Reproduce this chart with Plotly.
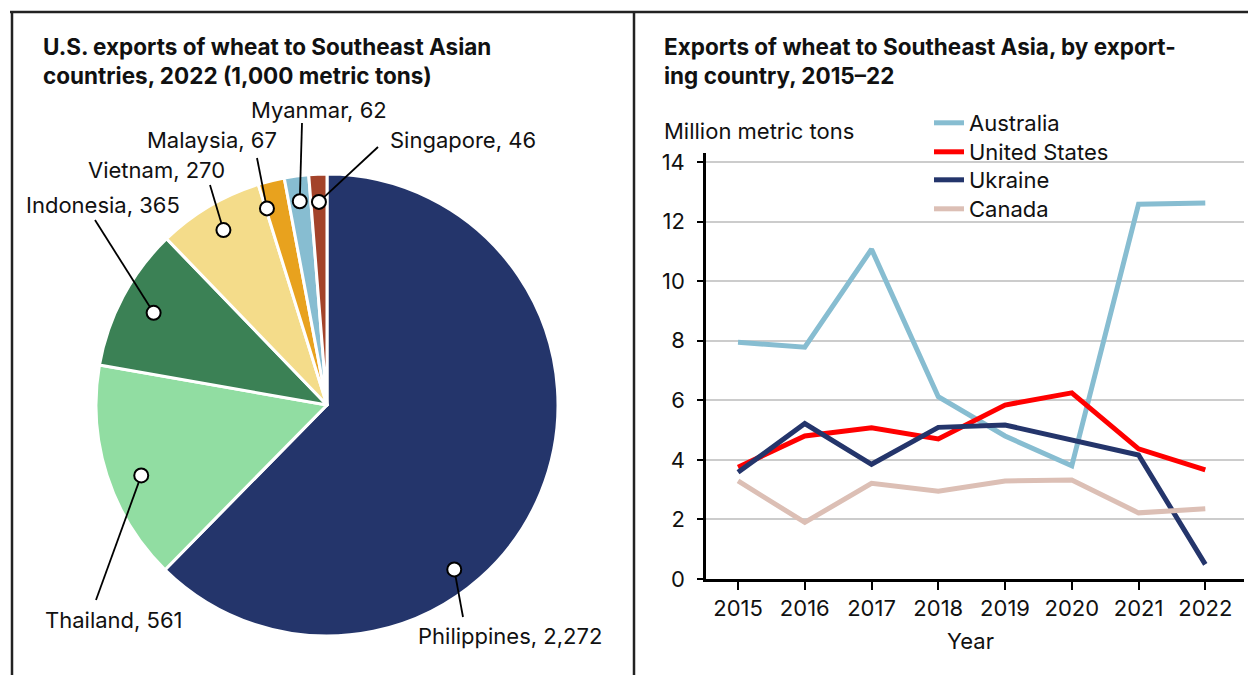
import math
import plotly.graph_objects as go

W, H = 1248, 675

# left panel: U.S. wheat exports by destination, 2022 (1,000 metric tons)
pie_countries = ["Philippines", "Thailand", "Indonesia", "Vietnam", "Malaysia", "Myanmar", "Singapore"]
pie_values = [2272, 561, 365, 270, 67, 62, 46]
pie_colors = ["#24356b", "#91dda2", "#3b8155", "#f4dc8a", "#e8a21e", "#87bdd1", "#a3432a"]

# right panel: exports to Southeast Asia by exporter (million metric tons)
years = [2015, 2016, 2017, 2018, 2019, 2020, 2021, 2022]
australia = [7.95, 7.78, 11.07, 6.12, 4.80, 3.80, 12.58, 12.62]
united_states = [3.75, 4.80, 5.08, 4.70, 5.84, 6.25, 4.37, 3.66]
ukraine = [3.58, 5.22, 3.85, 5.09, 5.17, 4.66, 4.16, 0.49]
canada = [3.29, 1.90, 3.21, 2.95, 3.29, 3.32, 2.22, 2.36]
series_names = ["Australia", "United States", "Ukraine", "Canada"]
series_colors = ["#87bdd1", "#ff0000", "#24356b", "#dcbfb5"]

FONT = "Inter"
INK = "#111111"
SIZE = 22


def fx(x):
    return x / W


def fy(y):
    return 1 - y / H


# pie geometry in pixels
cx, cy, R = 327, 405, 231

# where each callout line ends and where its label sits (pixels)
callouts = {
    "Philippines": dict(end=(463, 617), text=(510, 636), anchor="center", shift=30, r=0.90),
    "Thailand": dict(end=(96, 600), text=(114, 620), anchor="center", shift=-3, r=0.86),
    "Indonesia": dict(end=(95, 220), text=(103, 205), anchor="center", shift=0, r=0.85),
    "Vietnam": dict(end=(210, 185), text=(156, 170), anchor="center", shift=0, r=0.88),
    "Malaysia": dict(end=(257, 158), text=(279, 140), anchor="right", shift=-3, r=0.89),
    "Myanmar": dict(end=(302, 123), text=(319, 110), anchor="center", shift=0, r=0.89),
    "Singapore": dict(end=(378, 147), text=(388, 140), anchor="left", shift=0, r=0.88),
}

fig = go.Figure()

fig.add_trace(go.Pie(
    labels=pie_countries, values=pie_values, sort=False, direction="clockwise", rotation=0,
    marker=dict(colors=pie_colors, line=dict(color="white", width=3)),
    textinfo="none", hoverinfo="label+value", showlegend=False,
    domain=dict(x=[fx(cx - R), fx(cx + R)], y=[fy(cy + R), fy(cy - R)]),
))

# one legend per series so the rows sit at the reference spacing
legend_rows = [123, 152, 180, 209]
legend_ids = ["legend", "legend2", "legend3", "legend4"]
for name, vals, col, lid in zip(series_names, [australia, united_states, ukraine, canada], series_colors, legend_ids):
    fig.add_trace(go.Scatter(x=years, y=vals, mode="lines", name=name, legend=lid,
                             line=dict(color=col, width=5)))

shapes = []
annotations = []

# frame lines
for x0, y0, x1, y1 in [(10, 12, W, 12), (12, 12, 12, H), (634, 12, 634, H)]:
    shapes.append(dict(type="line", xref="paper", yref="paper", x0=fx(x0), y0=fy(y0), x1=fx(x1), y1=fy(y1),
                       line=dict(color="#222222", width=2.5)))

# white box behind the legend rows (hides the gridlines there)
shapes.append(dict(type="rect", xref="paper", yref="paper", layer="between",
                   x0=fx(919), x1=fx(1128), y0=fy(226), y1=fy(105),
                   fillcolor="white", line=dict(width=0)))

# callouts for the pie
total = sum(pie_values)
start = 0.0
for name, val in zip(pie_countries, pie_values):
    span = 360.0 * val / total
    c = callouts[name]
    ang = math.radians(start + span / 2 + c["shift"])
    dx = cx + c["r"] * R * math.sin(ang)
    dy = cy - c["r"] * R * math.cos(ang)
    start += span
    ex, ey = c["end"]
    shapes.append(dict(type="line", xref="paper", yref="paper", layer="above",
                       x0=fx(dx), y0=fy(dy), x1=fx(ex), y1=fy(ey), line=dict(color="black", width=1.8)))
    shapes.append(dict(type="circle", xref="paper", yref="paper", layer="above",
                       x0=fx(dx - 7), x1=fx(dx + 7), y0=fy(dy - 7), y1=fy(dy + 7),
                       fillcolor="white", line=dict(color="black", width=2)))
    tx, ty = c["text"]
    annotations.append(dict(text=f"{name}, {val:,}", xref="paper", yref="paper", x=fx(tx), y=fy(ty),
                            xanchor=c["anchor"], yanchor="middle", showarrow=False,
                            font=dict(family=FONT, size=SIZE, color=INK)))

# titles (one annotation per line) and axis labels
titles = [
    ("U.S. exports of wheat to Southeast Asian", 41, 47),
    ("countries, 2022 (1,000 metric tons)", 41, 76),
    ("Exports of wheat to Southeast Asia, by export-", 662, 47),
    ("ing country, 2015\u201322", 662, 76),
]
for txt, x, y in titles:
    annotations.append(dict(text=f"<b>{txt}</b>", xref="paper", yref="paper", x=fx(x), y=fy(y),
                            xanchor="left", yanchor="middle", showarrow=False,
                            font=dict(family=FONT, size=22.5, color=INK)))
annotations += [
    dict(text="Million metric tons", xref="paper", yref="paper", x=fx(662), y=fy(131),
         xanchor="left", yanchor="middle", showarrow=False, font=dict(family=FONT, size=SIZE, color=INK)),
    dict(text="Year", xref="paper", yref="paper", x=fx(970), y=fy(641),
         xanchor="center", yanchor="middle", showarrow=False, font=dict(family=FONT, size=SIZE, color=INK)),
]

legends = {}
for lid, row in zip(legend_ids, legend_rows):
    legends[lid] = dict(x=fx(929), y=fy(row), xanchor="left", yanchor="middle", bgcolor="rgba(0,0,0,0)",
                        font=dict(family=FONT, size=SIZE, color=INK), itemwidth=30)

fig.update_layout(
    width=W, height=H, margin=dict(l=0, r=0, t=0, b=0, autoexpand=False),
    paper_bgcolor="white", plot_bgcolor="white",
    font=dict(family=FONT, size=SIZE, color=INK),
    shapes=shapes, annotations=annotations,
    xaxis=dict(domain=[fx(706), fx(1244)], range=[2014.52, 2022.58], tickvals=years, automargin=False,
               showgrid=False, zeroline=False, showline=True, linecolor="black", linewidth=2.5,
               ticks="outside", ticklen=8, tickwidth=2, tickcolor="black", ticklabelstandoff=0,
               tickfont=dict(family=FONT, size=SIZE, color=INK), fixedrange=True),
    yaxis=dict(domain=[fy(579), fy(153)], range=[0, 14.3], tickvals=[0, 2, 4, 6, 8, 10, 12, 14],
               automargin=False, showgrid=True, gridcolor="#cccccc", gridwidth=1.5, zeroline=False,
               showline=True, linecolor="black", linewidth=2.5,
               ticks="outside", ticklen=6, tickwidth=2, tickcolor="black", ticklabelstandoff=8,
               tickfont=dict(family=FONT, size=SIZE, color=INK), fixedrange=True),
    **legends,
)

# drop the default body margin so the figure sits at the window origin
post = "document.body.style.margin = '0'; document.documentElement.style.overflow = 'hidden';"
fig.write_html("out.html", post_script=post, config={"displayModeBar": False})
